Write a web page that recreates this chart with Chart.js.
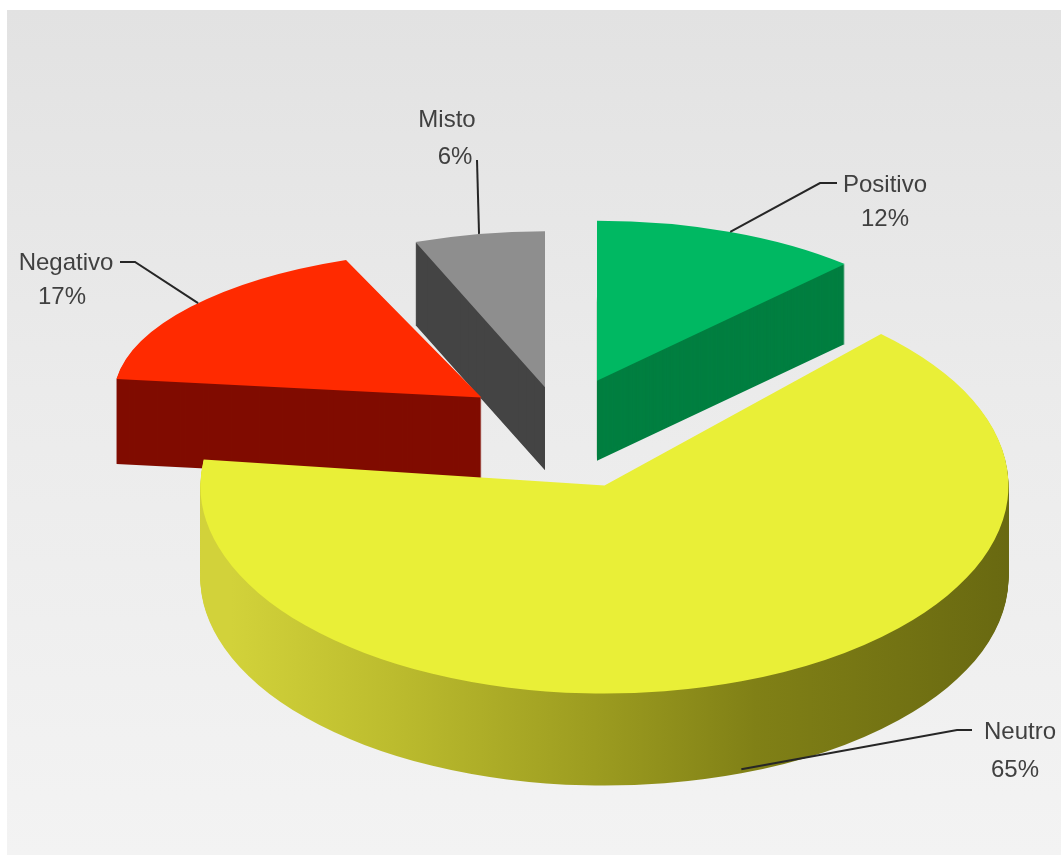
<!DOCTYPE html>
<html>
<head>
<meta charset="utf-8">
<script src="https://cdn.jsdelivr.net/npm/chart.js@4/dist/chart.umd.min.js"></script>
<style>
html,body{margin:0;padding:0;background:#ffffff;}
#wrap{position:relative;width:1061px;height:855px;overflow:hidden;}
#bg{position:absolute;left:7px;top:10px;width:1054px;height:845px;background:linear-gradient(to bottom,#e2e2e2 0%,#ebebeb 45%,#f3f3f3 100%);}
canvas{position:absolute;left:0;top:0;}
</style>
</head>
<body>
<div id="wrap"><div id="bg"></div><canvas id="c" width="1061" height="855"></canvas></div>
<script>
// ---- data ----
const categories = ['Positivo', 'Neutro', 'Negativo', 'Misto'];
const values = [12, 65, 17, 6];
const valueLabels = ['12%', '65%', '17%', '6%'];
const topColors = ['#00b862', '#e9ef37', '#ff2a00', '#8e8e8e'];
const sideColors = ['#007f40', '#9a9a20', '#800c00', '#444444'];
const explode = [111, 130, 108, 91];

// ---- 3D look (per-slice foreshortening to mimic perspective) ----
const SX = [0.905, 1.01, 0.92, 0.88];
const SY = [0.40, 0.52, 0.37, 0.39];
const DEPTH = [80, 92, 85, 83];
const FONT = '24px "Liberation Sans", Arial, sans-serif';

// label layout: [nameX, nameY, pctX, pctY, elbowX, elbowY, stubX, stubY, rimFraction]
const labelLayout = [
  [885, 185, 885, 219, 820, 183, 837, 183, 0.50],
  [1020, 732, 1015, 770, 957, 730, 972, 730, 0.50],
  [66, 263, 62, 297, 135, 262, 120, 262, 0.53],
  [447, 120, 455, 157, 477, 160, 477, 160, 0.50]
];

const pie3d = {
  id: 'pie3d',
  beforeDatasetsDraw(chart) {
    const ctx = chart.ctx;
    const arcs = chart.getDatasetMeta(0).data;
    const cx = arcs[0].x, cy = arcs[0].y;
    const grad = ctx.createLinearGradient(190, 0, 990, 0);
    grad.addColorStop(0, '#d2d23a');
    grad.addColorStop(0.2, '#bcbc2e');
    grad.addColorStop(0.45, '#9c9c20');
    grad.addColorStop(0.65, '#808016');
    grad.addColorStop(1, '#666610');

    const face = (a, i, dy) => {
      const mid = (a.startAngle + a.endAngle) / 2;
      ctx.save();
      ctx.translate(0, dy);
      ctx.translate(cx, cy);
      ctx.scale(SX[i], SY[i]);
      ctx.translate(-cx, -cy);
      ctx.translate(Math.cos(mid) * explode[i], Math.sin(mid) * explode[i]);
      a.draw(ctx);
      ctx.restore();
    };
    const order = [0, 3, 2, 1];
    for (const i of order) {
      const a = arcs[i];
      const orig = a.options;
      a.options = Object.assign({}, orig, { backgroundColor: i === 1 ? grad : sideColors[i] });
      for (let d = DEPTH[i]; d >= 1; d--) face(a, i, d);
      a.options = orig;
    }
    for (const i of order) face(arcs[i], i, 0);
    return false;
  },
  afterDraw(chart) {
    const ctx = chart.ctx;
    const arcs = chart.getDatasetMeta(0).data;
    const cx = arcs[0].x, cy = arcs[0].y;
    ctx.save();
    ctx.strokeStyle = '#262626';
    ctx.lineWidth = 2;
    ctx.fillStyle = '#404040';
    ctx.font = FONT;
    ctx.textAlign = 'center';
    ctx.textBaseline = 'middle';
    arcs.forEach((a, i) => {
      const L = labelLayout[i];
      const mid = (a.startAngle + a.endAngle) / 2;
      const th = a.startAngle + L[8] * (a.endAngle - a.startAngle);
      const ux = a.x + Math.cos(mid) * explode[i] + a.outerRadius * Math.cos(th);
      const uy = a.y + Math.sin(mid) * explode[i] + a.outerRadius * Math.sin(th);
      const sx = cx + (ux - cx) * SX[i];
      const sy = cy + (uy - cy) * SY[i] + (i === 1 ? DEPTH[i] - 4 : 0);
      ctx.beginPath();
      ctx.moveTo(sx, sy);
      ctx.lineTo(L[4], L[5]);
      ctx.lineTo(L[6], L[7]);
      ctx.stroke();
      ctx.fillText(categories[i], L[0], L[1]);
      ctx.fillText(valueLabels[i], L[2], L[3]);
    });
    ctx.restore();
  }
};

new Chart(document.getElementById('c'), {
  type: 'pie',
  data: {
    labels: categories,
    datasets: [{
      data: values,
      backgroundColor: topColors,
      borderWidth: 0,
      offset: 0,
      radius: 400,
      clip: false
    }]
  },
  options: {
    responsive: false,
    animation: false,
    layout: { padding: { left: 59, bottom: 11 } },
    plugins: { legend: { display: false }, tooltip: { enabled: false } }
  },
  plugins: [pie3d]
});
</script>
</body>
</html>
